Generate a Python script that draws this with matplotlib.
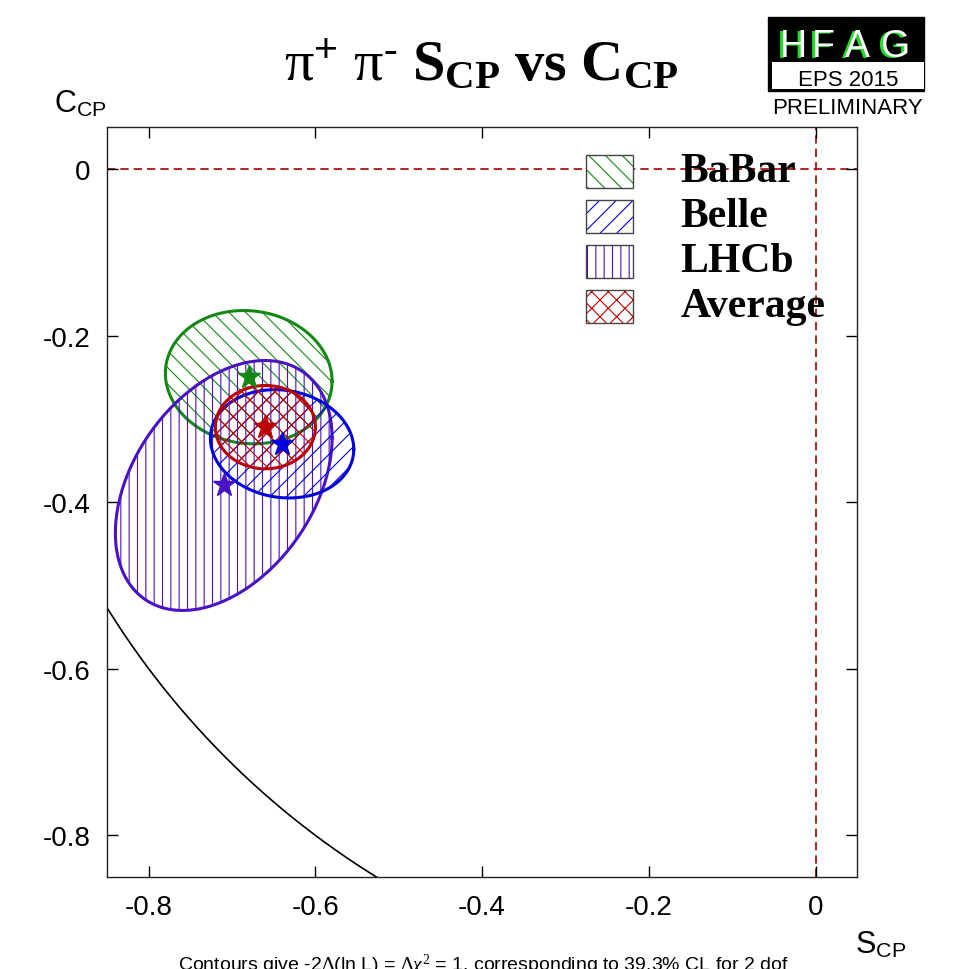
import numpy as np
import matplotlib
matplotlib.use("Agg")
import matplotlib.pyplot as plt
from matplotlib.patches import Polygon, Rectangle

plt.rcParams["font.family"] = ["Liberation Sans", "DejaVu Sans"]
plt.rcParams["mathtext.fontset"] = "custom"
plt.rcParams["mathtext.rm"] = "Liberation Serif"
plt.rcParams["mathtext.it"] = "Liberation Serif:italic"
plt.rcParams["mathtext.bf"] = "Liberation Serif:bold"
plt.rcParams["mathtext.sf"] = "Liberation Sans"
plt.rcParams["hatch.linewidth"] = 0.8

# measurements of S_CP and C_CP for B0 -> pi+ pi-
experiments = ["BaBar", "Belle", "LHCb", "Average"]
s_cp = [-0.68, -0.64, -0.71, -0.66]
s_err = [0.10, 0.086, 0.13, 0.06]
c_cp = [-0.25, -0.33, -0.38, -0.31]
c_err = [0.08, 0.065, 0.15, 0.05]
corr = [-0.06, -0.10, 0.38, 0.0]

colors = ["#138813", "#0000dd", "#4a12c4", "#bb0000"]
hatches = ["\\\\", "//", "||", "xx"]
draw_order = [0, 2, 1, 3]

x_ticks = [-0.8, -0.6, -0.4, -0.2, 0]
y_ticks = [0, -0.2, -0.4, -0.6, -0.8]


def ellipse_points(mx, my, sx, sy, r, n=200):
    # contour of delta chi2 = 1
    t = np.linspace(0, 2 * np.pi, n)
    cov = np.array([[sx**2, r * sx * sy], [r * sx * sy, sy**2]])
    L = np.linalg.cholesky(cov)
    pts = L @ np.vstack([np.cos(t), np.sin(t)])
    return np.column_stack([mx + pts[0], my + pts[1]])


fig = plt.figure(figsize=(9.73, 9.70), dpi=100)
ax = fig.add_axes([0.110, 0.0948, 0.771, 0.773])
ax.set_xlim(-0.85, 0.05)
ax.set_ylim(-0.85, 0.05)

# physical boundary S^2 + C^2 = 1
th = np.linspace(np.pi, 1.5 * np.pi, 300)
ax.plot(np.cos(th), np.sin(th), color="black", lw=1.2, zorder=1)

ax.axhline(0, color="#aa0000", lw=1.2, ls=(0, (5, 3)), zorder=1)
ax.axvline(0, color="#aa0000", lw=1.2, ls=(0, (5, 3)), zorder=1)

for z, i in enumerate(draw_order):
    pts = ellipse_points(s_cp[i], c_cp[i], s_err[i], c_err[i], corr[i])
    ax.add_patch(Polygon(pts, closed=True, facecolor="none", edgecolor=colors[i],
                         hatch=hatches[i], lw=0, zorder=2 + z))
    ax.plot(pts[:, 0], pts[:, 1], color=colors[i], lw=2.2, zorder=2 + z)

for i in range(len(experiments)):
    ax.plot(s_cp[i], c_cp[i], marker="*", ms=17, color=colors[i],
            mec=colors[i], zorder=10)

ax.set_xticks(x_ticks)
ax.set_xticklabels(["-0.8", "-0.6", "-0.4", "-0.2", "0"])
ax.set_yticks(y_ticks)
ax.set_yticklabels(["0", "-0.2", "-0.4", "-0.6", "-0.8"])
ax.tick_params(direction="in", length=8, width=1, labelsize=20,
               top=True, right=True, pad=12)
for sp in ax.spines.values():
    sp.set_linewidth(1.0)
    sp.set_color("#222222")

# legend
for k, name in enumerate(experiments):
    y0 = 0.919 - k * 0.06
    ax.add_patch(Rectangle((0.639, y0), 0.062, 0.044, transform=ax.transAxes,
                           facecolor="white", edgecolor=colors[k],
                           hatch=hatches[k], lw=0, zorder=11))
    ax.add_patch(Rectangle((0.639, y0), 0.062, 0.044, transform=ax.transAxes,
                           facecolor="none", edgecolor="#444444", lw=1.0, zorder=12))
    ax.text(0.764, y0 + 0.022, name, transform=ax.transAxes, fontsize=30,
            family="Liberation Serif", weight="bold", va="center", ha="left",
            zorder=12)

# title and axis labels
fig.text(0.495, 0.9175,
         r"$\mathrm{\pi}^{\mathsf{+}}\ \mathrm{\pi}^{\text{-}}\ \mathbf{S}_{\mathbf{CP}}\ \mathbf{vs}\ \mathbf{C}_{\mathbf{CP}}$",
         fontsize=42, ha="center", va="baseline")
fig.text(0.056, 0.8845, r"C$_{\mathsf{CP}}$", fontsize=22, ha="left", va="baseline")
fig.text(0.879, 0.0175, r"S$_{\mathsf{CP}}$", fontsize=22, ha="left", va="baseline")
fig.text(0.497, -0.001,
         r"Contours give -2$\Delta$(ln L) = $\Delta\chi^2$ = 1, corresponding to 39.3% CL for 2 dof",
         fontsize=14, ha="center", va="baseline")

# HFAG logo
fig.patches.append(Rectangle((768 / 973, 1 - 92 / 970), 156 / 973, 74 / 970,
                             transform=fig.transFigure, facecolor="black",
                             edgecolor="black", figure=fig))
fig.patches.append(Rectangle((772 / 973, 1 - 90 / 970), 152 / 973, 27 / 970,
                             transform=fig.transFigure, facecolor="white",
                             edgecolor="none", figure=fig))
for ch, xp in zip("HFAG", [793, 823, 857, 895]):
    fig.text((xp - 3) / 973, 1 - 58.5 / 970, ch, color="#22dd22",
             fontsize=27, ha="center", va="baseline")
    fig.text(xp / 973, 1 - 57 / 970, ch, color="white",
             fontsize=27, ha="center", va="baseline")
fig.text(848 / 973, 1 - 86 / 970, "EPS 2015", fontsize=16, ha="center", va="baseline")
fig.text(847 / 973, 1 - 114 / 970, "PRELIMINARY", fontsize=16, ha="center",
         va="baseline")

fig.savefig("out.png", dpi=100)
